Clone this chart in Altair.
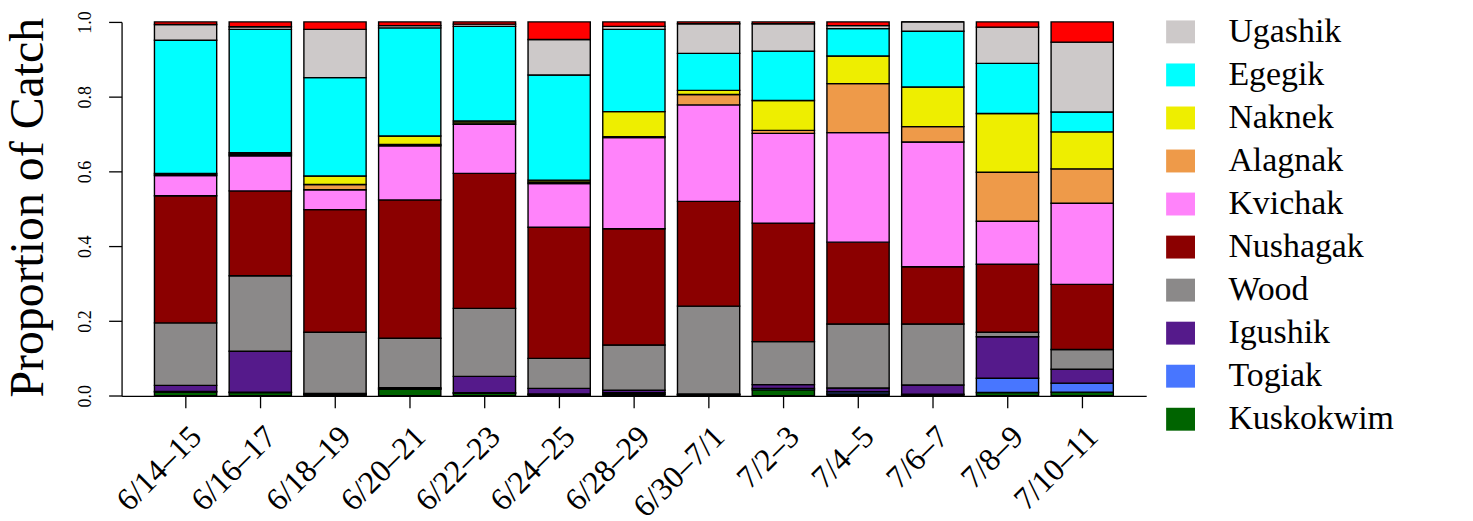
import altair as alt
import pandas as pd

periods = ["6/14–15", "6/16–17", "6/18–19", "6/20–21", "6/22–23", "6/24–25", "6/28–29",
           "6/30–7/1", "7/2–3", "7/4–5", "7/6–7", "7/8–9", "7/10–11"]

# stack order bottom -> top
rivers = ["Kuskokwim", "Togiak", "Igushik", "Wood", "Nushagak", "Kvichak",
          "Alagnak", "Naknek", "Egegik", "Ugashik", "Other"]

kuskokwim = [0.010, 0.009, 0.003, 0.018, 0.007, 0.003, 0.004, 0.002, 0.016, 0.005, 0.002, 0.009, 0.010]
togiak    = [0.002, 0.001, 0.001, 0.001, 0.001, 0.002, 0.004, 0.001, 0.004, 0.006, 0.002, 0.038, 0.024]
igushik   = [0.016, 0.109, 0.002, 0.003, 0.044, 0.015, 0.007, 0.002, 0.010, 0.010, 0.025, 0.111, 0.037]
wood      = [0.167, 0.202, 0.164, 0.132, 0.182, 0.080, 0.121, 0.235, 0.115, 0.171, 0.163, 0.012, 0.053]
nushagak  = [0.340, 0.227, 0.328, 0.370, 0.361, 0.351, 0.311, 0.280, 0.317, 0.219, 0.153, 0.182, 0.174]
kvichak   = [0.054, 0.094, 0.053, 0.145, 0.131, 0.117, 0.244, 0.258, 0.240, 0.293, 0.334, 0.115, 0.217]
alagnak   = [0.003, 0.004, 0.014, 0.003, 0.004, 0.004, 0.002, 0.028, 0.008, 0.131, 0.041, 0.131, 0.092]
naknek    = [0.003, 0.004, 0.023, 0.023, 0.005, 0.005, 0.067, 0.011, 0.080, 0.074, 0.106, 0.157, 0.099]
egegik    = [0.356, 0.330, 0.263, 0.289, 0.253, 0.281, 0.220, 0.099, 0.132, 0.073, 0.149, 0.134, 0.053]
ugashik   = [0.042, 0.007, 0.129, 0.006, 0.006, 0.095, 0.008, 0.079, 0.073, 0.008, 0.025, 0.097, 0.187]
other     = [0.007, 0.013, 0.020, 0.010, 0.006, 0.047, 0.012, 0.005, 0.005, 0.010, 0.000, 0.014, 0.054]

series = [kuskokwim, togiak, igushik, wood, nushagak, kvichak, alagnak, naknek, egegik, ugashik, other]

color_of = {
    "Ugashik": "#CDC9C9", "Egegik": "#00FFFF", "Naknek": "#EEEE00", "Alagnak": "#EE9A49",
    "Kvichak": "#FF83FA", "Nushagak": "#8B0000", "Wood": "#8B8989", "Igushik": "#551A8B",
    "Togiak": "#4876FF", "Kuskokwim": "#006400", "Other": "#FF0000",
}

rows = []
for ri, (name, vals) in enumerate(zip(rivers, series)):
    for p, v in zip(periods, vals):
        rows.append({"period": p, "river": name, "prop": v, "ord": ri})
df = pd.DataFrame(rows)

legend_order = ["Ugashik", "Egegik", "Naknek", "Alagnak", "Kvichak", "Nushagak",
                "Wood", "Igushik", "Togiak", "Kuskokwim", "Other"]

FONT = "Liberation Serif, Times New Roman, serif"
W, H = 1028.5, 375.3

chart = alt.Chart(df).mark_bar(stroke="black", strokeWidth=1.4, opacity=1).encode(
    x=alt.X("period:N", sort=periods,
            scale=alt.Scale(paddingInner=0.167, paddingOuter=0.44),
            axis=alt.Axis(title=None, labelAngle=-45, labelAlign="right", labelBaseline="top",
                          labelFontSize=32, labelFont=FONT, labelColor="black", labelPadding=13,
                          labelOverlap=False, labelLimit=400,
                          tickSize=12, tickColor="black", tickWidth=1.3,
                          domainColor="black", domainWidth=1.3)),
    y=alt.Y("prop:Q", stack="zero", scale=alt.Scale(domain=[0, 1], nice=False),
            axis=alt.Axis(title="Proportion of Catch", values=[0, 0.2, 0.4, 0.6, 0.8, 1.0],
                          format=".1f", labelAngle=270, labelAlign="center", labelBaseline="bottom",
                          labelFontSize=18, labelFont=FONT, labelColor="black", labelPadding=14,
                          tickSize=13, tickColor="black", tickWidth=1.3,
                          domainColor="black", domainWidth=1.3, grid=False,
                          titleFont=FONT, titleFontSize=48, titleFontWeight="normal",
                          titleColor="black", titleAngle=270, titleX=-79, titleY=186,
                          titleAlign="center", titleBaseline="alphabetic")),
    color=alt.Color("river:N",
                    scale=alt.Scale(domain=legend_order, range=[color_of[r] for r in legend_order]),
                    legend=alt.Legend(values=legend_order[:10], title=None, orient="none",
                                      legendX=1046, legendY=-7, padding=0,
                                      symbolType="M-1,-0.793L1,-0.793L1,0.793L-1,0.793Z",
                                      symbolSize=841, symbolStrokeWidth=0, symbolOpacity=1,
                                      labelFont=FONT, labelFontSize=34, labelColor="black",
                                      labelOffset=31, labelLimit=400, rowPadding=9.2)),
    order=alt.Order("ord:Q", sort="ascending"),
).properties(
    width=W, height=H, autosize="none",
    padding={"left": 114, "top": 13, "right": 320, "bottom": 130},
).configure_view(stroke=None)

chart.save("out.html", embed_options={"renderer": "svg", "actions": False})
